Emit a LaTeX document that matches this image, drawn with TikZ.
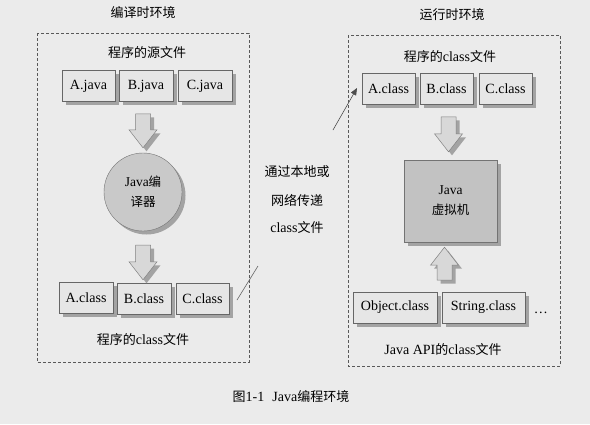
\documentclass[tikz,border=0pt]{standalone}
\usepackage{fontspec}
\setmainfont{Liberation Serif}[Scale=1.08]
\newfontfamily\cjk{Noto Sans CJK SC}
\usetikzlibrary{calc,shadows,arrows}
\definecolor{paper}{HTML}{EBEBEB}
\definecolor{boxgray}{HTML}{E6E6E6}
\definecolor{arrowgray}{HTML}{D8D8D8}
\definecolor{compgray}{HTML}{C9C9C9}
\definecolor{jvmgray}{HTML}{C2C2C2}
\newcommand{\zh}[1]{{\cjk #1}}

\tikzset{
  every node/.style={font=\fontsize{13}{15}\selectfont, inner sep=0pt},
  myshadow/.style={drop shadow={shadow xshift=3.5pt, shadow yshift=-3.5pt, fill=black!36, opacity=1}},
  filebox/.style={draw=black!60, fill=boxgray, minimum height=31pt, myshadow},
  envbox/.style={draw=black!65, line width=0.7pt, dash pattern=on 3pt off 2pt},
  fatarrow/.style={draw=black!50, fill=arrowgray, line width=0.5pt, myshadow},
}

% block arrow from #1 to #2 (tip at #2)
\newcommand{\fatarrow}[2]{%
  \coordinate (fa-s) at (#1);
  \coordinate (fa-t) at (#2);
  \coordinate (fa-h) at ($(fa-t)!18pt!(fa-s)$);
  \draw[fatarrow] ($(fa-s)!7.5pt!90:(fa-t)$) -- ($(fa-h)!7.5pt!90:(fa-t)$)
    -- ($(fa-h)!14pt!90:(fa-t)$) -- (fa-t) -- ($(fa-h)!14pt!-90:(fa-t)$)
    -- ($(fa-h)!7.5pt!-90:(fa-t)$) -- ($(fa-s)!7.5pt!-90:(fa-t)$) -- cycle;
}

\begin{document}
\begin{tikzpicture}[x=1pt,y=-1pt]
\fill [paper] (0,0) rectangle (590,424);
\useasboundingbox (0,0) rectangle (590,424);

% compile time side
\draw [envbox] (37,33) rectangle (249,362);
\node (cttitle) at (143,13) {\zh{编译时环境}};
\node (srclabel) at (147,53) {\zh{程序的源文件}};
\node [filebox, minimum width=53pt] (ajava) at (88.5,86) {A.java};
\node [filebox, minimum width=54pt] (bjava) at (146,86) {B.java};
\node [filebox, minimum width=54pt] (cjava) at (205,86) {C.java};
\node [circle, draw=black!55, fill=compgray, minimum size=78pt, align=center,
       myshadow, font=\fontsize{12.5}{20}\selectfont] (comp) at (143,192)
       {Java\zh{编}\\\zh{译器}};
\node [filebox, minimum width=54pt] (aclass) at (86,298) {A.class};
\node [filebox, minimum width=54pt] (bclass) at (144,298.5) {B.class};
\node [filebox, minimum width=53pt] (cclass) at (202.5,299) {C.class};
\node (clslabel) at (143,340) {\zh{程序的}class\zh{文件}};

\fatarrow{$(comp.north)+(0,-39)$}{$(comp.north)+(0,-5)$}
\fatarrow{$(comp.south)+(0,14)$}{$(comp.south |- bclass.north)+(0,-3)$}

% transfer
\coordinate (sendA) at (237,300);
\coordinate (sendB) at (258,266);
\draw [black!60, line width=0.6pt] (sendA) -- (sendB);
\node (tr1) at (297,172) {\zh{通过本地或}};
\node (tr2) at (297,200) {\zh{网络传递}};
\node (tr3) at (297,228) {class\zh{文件}};
\coordinate (recvA) at (333,130);
\draw [black!70, line width=0.6pt, -triangle 45] (recvA) -- (357,88);

% run time side
\draw [envbox] (348,35) rectangle (560,366);
\node (rttitle) at (452,15) {\zh{运行时环境}};
\node (rtlabel) at (450,57) {\zh{程序的}class\zh{文件}};
\node [filebox, minimum width=53pt] (raclass) at (388.5,89) {A.class};
\node [filebox, minimum width=53pt] (rbclass) at (446.5,89) {B.class};
\node [filebox, minimum width=53pt] (rcclass) at (505.5,89) {C.class};
\node [draw=black!55, fill=jvmgray, minimum width=93pt, minimum height=82pt,
       align=center, myshadow, font=\fontsize{12.5}{20}\selectfont] (jvm) at (450.5,201)
       {Java\\\zh{虚拟机}};
\node [filebox, minimum width=84pt] (objclass) at (395,307.5) {Object.class};
\node [filebox, minimum width=83pt] (strclass) at (483.5,307.5) {String.class};
\node (more) at (541,313) {\ldots};
\node (apilabel) at (443,350) {Java API\zh{的}class\zh{文件}};

\fatarrow{$(jvm.north)+(-2,-43)$}{$(jvm.north)+(-2,-8)$}
\fatarrow{$(jvm.south)+(-6,38)$}{$(jvm.south)+(-6,5)$}

\node (caption) at (291,397) {\zh{图}1-1\hspace{8pt}Java\zh{编程环境}};
\end{tikzpicture}
\end{document}
